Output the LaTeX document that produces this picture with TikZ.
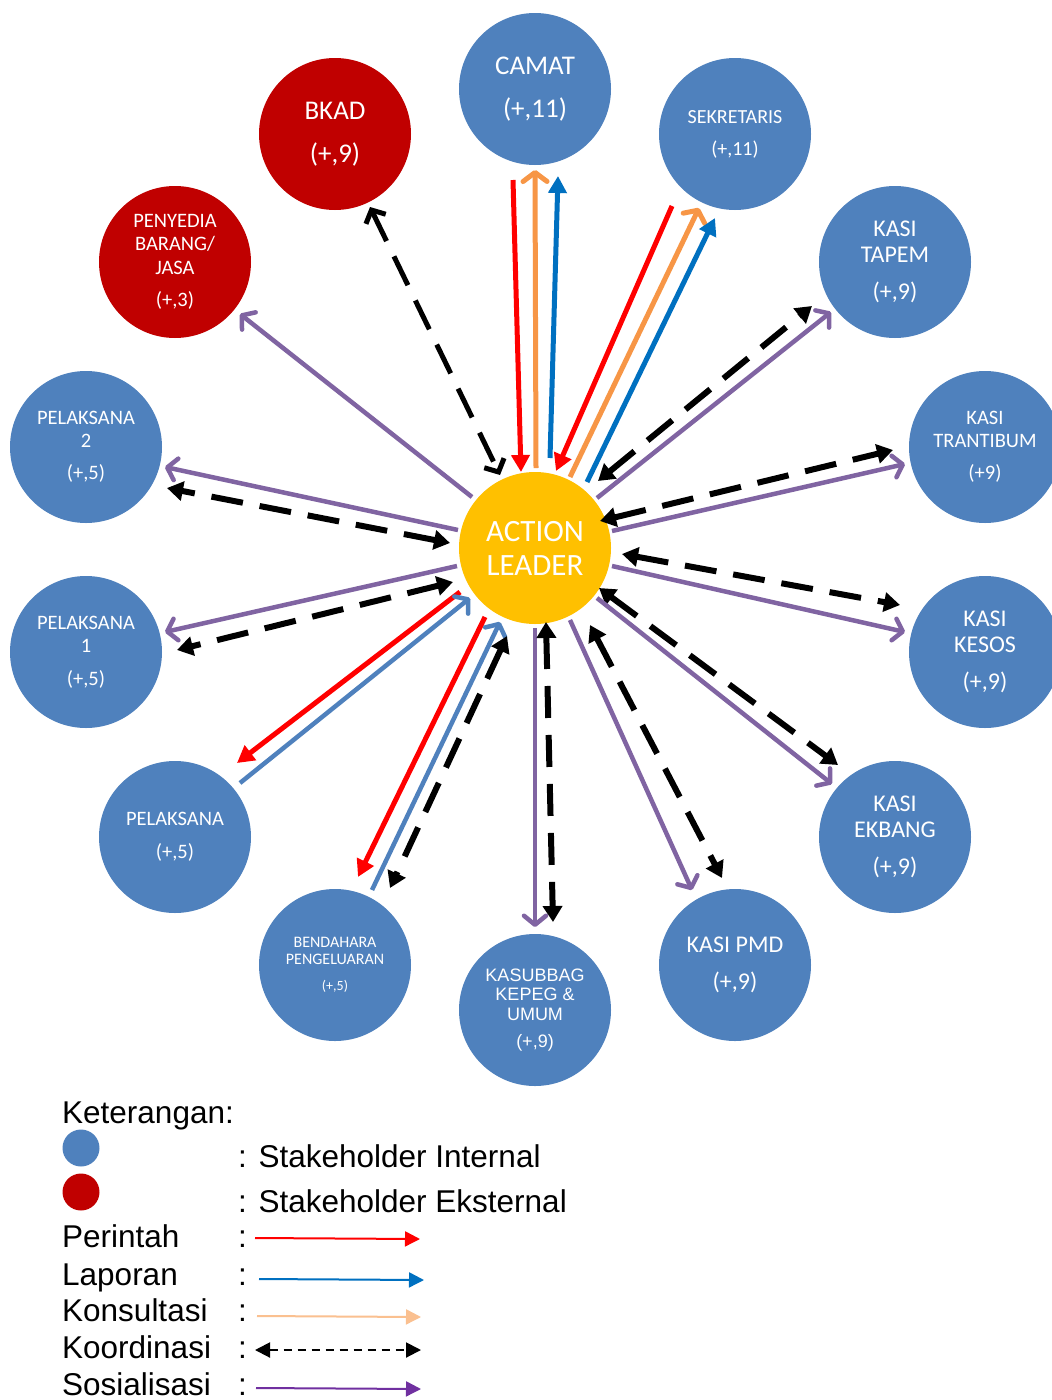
\documentclass[tikz,border=0pt]{standalone}
\usepackage{fontspec}
\setmainfont{Carlito}
\newfontfamily\arialf{Liberation Sans}
\usetikzlibrary{arrows.meta}
\definecolor{intblue}{HTML}{4F81BD}
\definecolor{extred}{HTML}{C00000}
\definecolor{alyellow}{HTML}{FFC000}
\definecolor{cred}{HTML}{FF0000}
\definecolor{corange}{HTML}{F79646}
\definecolor{cblue}{HTML}{0070C0}
\definecolor{csteel}{HTML}{4F81BD}
\definecolor{cpurple}{HTML}{8064A2}
\definecolor{lorange}{HTML}{FAC090}
\definecolor{lpurple}{HTML}{7030A0}
\tikzset{
  bubble/.style={circle, minimum size=152pt, inner sep=0pt, text=white, align=center},
  int/.style={bubble, fill=intblue},
  ext/.style={bubble, fill=extred},
  leader/.style={bubble, fill=alyellow},
  fs/.style n args={2}{font=\fontsize{#1}{#2}\selectfont},
  perintah/.style={draw=cred, line width=5pt, -{Triangle[length=17pt,width=18pt]}},
  laporan/.style={draw=cblue, line width=5pt, -{Triangle[length=17pt,width=18pt]}},
  lapsteel/.style={draw=csteel, line width=4.5pt, -{Straight Barb[round,length=9pt,width=22pt]}},
  konsul/.style={draw=corange, line width=5pt, -{Straight Barb[round,length=9pt,width=24pt]}},
  sosial/.style={draw=cpurple, line width=4.5pt, -{Straight Barb[round,length=9pt,width=22pt]}},
  koord/.style={draw=black, line width=6pt, dash pattern=on 32pt off 17pt,
    {Triangle[length=16pt,width=19pt]}-{Triangle[length=16pt,width=19pt]}},
  koordv/.style={draw=black, line width=5pt, dash pattern=on 32pt off 17pt,
    {Straight Barb[length=10pt,width=22pt]}-{Straight Barb[length=10pt,width=22pt]}},
  legtext/.style={anchor=base west, inner sep=0pt, font=\arialf\fontsize{31.5}{36}\selectfont},
  legarrow/.style={line width=2pt, -{Triangle[length=15pt,width=15pt]}},
}
\begin{document}
\begin{tikzpicture}[x=1pt,y=-1pt]
\fill[white] (0,0) rectangle (1052,1400);
\useasboundingbox (0,0) rectangle (1052,1400);
% stakeholders
\node[int, fs={27}{43}] (camat) at (535,89) {CAMAT\\(+,11)};
\node[ext, fs={27}{43}] (bkad) at (335,134) {BKAD\\(+,9)};
\node[int, fs={20}{32}] (sek) at (735,134) {SEKRETARIS\\(+,11)};
\node[ext, fs={20.5}{23.5}] (peny) at (175,262) {PENYEDIA\\BARANG/\\JASA\\[9pt](+,3)};
\node[int, fs={24}{26}] (tapem) at (895,262) {KASI\\TAPEM\\[11pt](+,9)};
\node[int, fs={20.5}{23}] (p2) at (86,447) {PELAKSANA\\2\\[9pt](+,5)};
\node[int, fs={20.5}{23}] (trant) at (985,447) {KASI\\TRANTIBUM\\[9pt](+9)};
\node[int, fs={24}{26}] (kesos) at (985,652) {KASI\\KESOS\\[11pt](+,9)};
\node[int, fs={20.5}{23}] (p1) at (86,652) {PELAKSANA\\1\\[10pt](+,5)};
\node[int, fs={20.5}{33}] (p0) at (175,837) {PELAKSANA\\(+,5)};
\node[int, fs={24}{26}] (ekbang) at (895,837) {KASI\\EKBANG\\[11pt](+,9)};
\node[int, fs={16}{17}] (bend) at (335,965) {BENDAHARA\\PENGELUARAN\\[9pt]{\fontsize{14}{17}\selectfont(+,5)}};
\node[int, fs={24}{37}] (pmd) at (735,965) {KASI PMD\\(+,9)};
\node[int, font=\arialf\fontsize{18}{19.5}\selectfont] (kasub) at (535,1010) {KASUBBAG\\KEPEG \&\\UMUM\\[7.5pt](+,9)};
\node[leader, fs={31}{34}] (al) at (535,548) {ACTION\\LEADER};
% connector end points
\coordinate (camRa) at (513,180); \coordinate (camRb) at (521,472);
\coordinate (camOa) at (536,468); \coordinate (camOb) at (535,170);
\coordinate (camBa) at (550,458); \coordinate (camBb) at (558,176);
\coordinate (sekRa) at (672,206); \coordinate (sekRb) at (556,471);
\coordinate (sekOa) at (570,477); \coordinate (sekOb) at (699,208);
\coordinate (sekBa) at (587,482); \coordinate (sekBb) at (715,218);
\coordinate (bkKa) at (370,207); \coordinate (bkKb) at (500,475);
\coordinate (pySa) at (472,497); \coordinate (pySb) at (240,314);
\coordinate (tpKa) at (598,481); \coordinate (tpKb) at (812,306);
\coordinate (tpSa) at (597,498); \coordinate (tpSb) at (831,312);
\coordinate (trKa) at (600,521); \coordinate (trKb) at (893,450);
\coordinate (trSa) at (612,531); \coordinate (trSb) at (905,464);
\coordinate (ksKa) at (622,554); \coordinate (ksKb) at (900,605);
\coordinate (ksSa) at (612,566); \coordinate (ksSb) at (905,632);
\coordinate (ebKa) at (599,588); \coordinate (ebKb) at (838,765);
\coordinate (ebSa) at (597,598); \coordinate (ebSb) at (832,784);
\coordinate (pmKa) at (590,625); \coordinate (pmKb) at (722,878);
\coordinate (pmSa) at (570,620); \coordinate (pmSb) at (692,890);
\coordinate (kbSa) at (535,628); \coordinate (kbSb) at (535,927);
\coordinate (kbKa) at (546,622); \coordinate (kbKb) at (553,922);
\coordinate (bdRa) at (485,617); \coordinate (bdRb) at (358,877);
\coordinate (bdLa) at (372,890); \coordinate (bdLb) at (500,622);
\coordinate (bdKa) at (507,636); \coordinate (bdKb) at (390,888);
\coordinate (p0Ra) at (460,592); \coordinate (p0Rb) at (237,763);
\coordinate (p0La) at (240,783); \coordinate (p0Lb) at (470,598);
\coordinate (p1Sa) at (457,566); \coordinate (p1Sb) at (165,632);
\coordinate (p1Ka) at (453,582); \coordinate (p1Kb) at (177,650);
\coordinate (p2Sa) at (458,530); \coordinate (p2Sb) at (165,467);
\coordinate (p2Ka) at (450,543); \coordinate (p2Kb) at (167,488);
% connectors
\draw[perintah] (camRa) -- (camRb);
\draw[konsul] (camOa) -- (camOb);
\draw[laporan] (camBa) -- (camBb);
\draw[perintah] (sekRa) -- (sekRb);
\draw[konsul] (sekOa) -- (sekOb);
\draw[laporan] (sekBa) -- (sekBb);
\draw[koordv] (bkKa) -- (bkKb);
\draw[sosial] (pySa) -- (pySb);
\draw[koord] (tpKa) -- (tpKb);
\draw[sosial] (tpSa) -- (tpSb);
\draw[koord] (trKa) -- (trKb);
\draw[sosial] (trSa) -- (trSb);
\draw[koord] (ksKa) -- (ksKb);
\draw[sosial] (ksSa) -- (ksSb);
\draw[koord] (ebKa) -- (ebKb);
\draw[sosial] (ebSa) -- (ebSb);
\draw[koord] (pmKa) -- (pmKb);
\draw[sosial] (pmSa) -- (pmSb);
\draw[sosial] (kbSa) -- (kbSb);
\draw[koord] (kbKa) -- (kbKb);
\draw[perintah] (bdRa) -- (bdRb);
\draw[lapsteel] (bdLa) -- (bdLb);
\draw[koord] (bdKa) -- (bdKb);
\draw[perintah] (p0Ra) -- (p0Rb);
\draw[lapsteel] (p0La) -- (p0Lb);
\draw[sosial] (p1Sa) -- (p1Sb);
\draw[koord] (p1Ka) -- (p1Kb);
\draw[sosial] (p2Sa) -- (p2Sb);
\draw[koord] (p2Ka) -- (p2Kb);
% legend
\node[legtext] (ket) at (62,1123) {Keterangan:};
\node[circle, fill=intblue, minimum size=37pt, inner sep=0pt] (lgint) at (81,1148) {};
\node[circle, fill=extred, minimum size=37pt, inner sep=0pt] (lgext) at (81,1192) {};
\node[legtext] (lint) at (238,1167) {: Stakeholder Internal};
\node[legtext] (lext) at (238,1212) {: Stakeholder Eksternal};
\node[legtext] (lper) at (62,1247) {Perintah};
\node[legtext] (llap) at (62,1285) {Laporan};
\node[legtext] (lkon) at (62,1321) {Konsultasi};
\node[legtext] (lkoo) at (62,1358) {Koordinasi};
\node[legtext] (lsos) at (62,1395) {Sosialisasi};
\node[legtext] (cper) at (238,1247) {:};
\node[legtext] (clap) at (238,1285) {:};
\node[legtext] (ckon) at (238,1321) {:};
\node[legtext] (ckoo) at (238,1358) {:};
\node[legtext] (csos) at (238,1395) {:};
\coordinate (aper) at (255,1238); \coordinate (bper) at (420,1239);
\coordinate (alap) at (259,1279); \coordinate (blap) at (424,1280);
\coordinate (akon) at (257,1316); \coordinate (bkon) at (421,1317);
\coordinate (akoo) at (255,1350); \coordinate (bkoo) at (421,1350);
\coordinate (asos) at (256,1388); \coordinate (bsos) at (421,1389);
\draw[legarrow, draw=cred, fill=cred] (aper) -- (bper);
\draw[legarrow, draw=cblue, fill=cblue] (alap) -- (blap);
\draw[legarrow, draw=lorange, fill=lorange] (akon) -- (bkon);
\draw[line width=2pt, dash pattern=on 8pt off 6pt, {Triangle[length=15pt,width=15pt]}-{Triangle[length=15pt,width=15pt]}] (akoo) -- (bkoo);
\draw[legarrow, draw=lpurple, fill=lpurple] (asos) -- (bsos);
\end{tikzpicture}
\end{document}
